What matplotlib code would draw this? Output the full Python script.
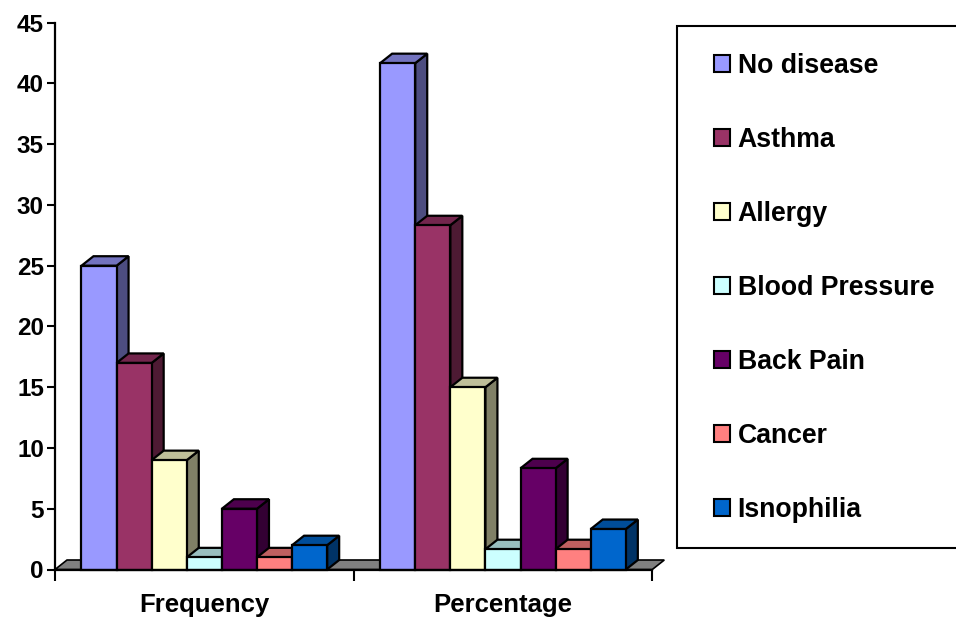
import numpy as np
import matplotlib
matplotlib.use('Agg')
import matplotlib.pyplot as plt
from matplotlib.patches import Polygon, Patch, Rectangle
from matplotlib.colors import to_rgb

plt.rcParams['font.family'] = ['Liberation Sans', 'DejaVu Sans']
plt.rcParams['font.weight'] = 'bold'

# survey results: count of respondents and share in percent
categories = ['Frequency', 'Percentage']
diseases = ['No disease', 'Asthma', 'Allergy', 'Blood Pressure',
            'Back Pain', 'Cancer', 'Isnophilia']
frequency = [25, 17, 9, 1, 5, 1, 2]
percentage = [41.67, 28.33, 15.0, 1.67, 8.33, 1.67, 3.33]
colors = ['#9999FF', '#993366', '#FFFFCC', '#CCFFFF',
          '#660066', '#FF8080', '#0066CC']

W, H = 956, 619
fig = plt.figure(figsize=(W / 100, H / 100), dpi=100)
ax = fig.add_axes([55 / W, (H - 569.5) / H, (652.3 - 55) / W, (569.5 - 22.7) / H])
ax.set_xlim(0, 2)
ax.set_ylim(0, 45)

# depth of the pseudo-3d extrusion, in pixels -> data units
dx = 12 * 2 / (652.3 - 55)
dy = 9.5 * 45 / (569.5 - 22.7)


def shade(c, f):
    return tuple(v * f for v in to_rgb(c))


# grey floor
floor = Polygon([(0, 0), (2, 0), (2 + dx, dy), (dx, dy)], closed=True,
                facecolor='#808080', edgecolor='black', lw=1.2,
                zorder=1, clip_on=False)
ax.add_patch(floor)

bw = 35.1 / 298.65
series = [frequency, percentage]
handles = []
for i, cat in enumerate(categories):
    x0 = i + 0.5 - 3.5 * bw
    for j, name in enumerate(diseases):
        v = series[i][j]
        x = x0 + j * bw
        z = 2 + j
        ax.bar(x, v, bw, align='edge', color=colors[j], edgecolor='black',
               lw=1.6, zorder=z + 0.3, clip_on=False)
        side = Polygon([(x + bw, 0), (x + bw + dx, dy), (x + bw + dx, v + dy), (x + bw, v)],
                       closed=True, facecolor=shade(colors[j], 0.5),
                       edgecolor='black', lw=1.6, zorder=z, clip_on=False)
        top = Polygon([(x, v), (x + bw, v), (x + bw + dx, v + dy), (x + dx, v + dy)],
                      closed=True, facecolor=shade(colors[j], 0.75),
                      edgecolor='black', lw=1.6, zorder=z + 0.1, clip_on=False)
        ax.add_patch(side)
        ax.add_patch(top)

for name, c in zip(diseases, colors):
    handles.append(Patch(facecolor=c, edgecolor='black', lw=1.5, label=name))

for s in ['top', 'right']:
    ax.spines[s].set_visible(False)
for s in ['left', 'bottom']:
    ax.spines[s].set_linewidth(1.6)
    ax.spines[s].set_zorder(20)

ax.set_yticks(np.arange(0, 46, 5))
ax.tick_params(axis='y', length=6, width=1.5, pad=2, labelsize=17.5)
ax.set_xticks([0.5, 1.5], categories)
ax.tick_params(axis='x', length=0, pad=17, labelsize=18.5)
ax.set_xticks([0, 1, 2], minor=True)
ax.tick_params(axis='x', which='minor', length=8, width=1.5, direction='out')

# legend box runs past the right edge of the figure
fig.add_artist(Rectangle((676.7 / W, (H - 548.3) / H), 300 / W, (548.3 - 26) / H,
                         transform=fig.transFigure, facecolor='white',
                         edgecolor='black', lw=1.5, clip_on=False))
leg = fig.legend(handles=handles, loc='upper left',
                 bbox_to_anchor=(703 / W, (H - 42) / H),
                 frameon=False, fontsize=19.2, handlelength=0.62,
                 handleheight=0.62, handletextpad=0.28, labelspacing=1.80,
                 borderaxespad=0)

fig.savefig('out.png', dpi=100)
